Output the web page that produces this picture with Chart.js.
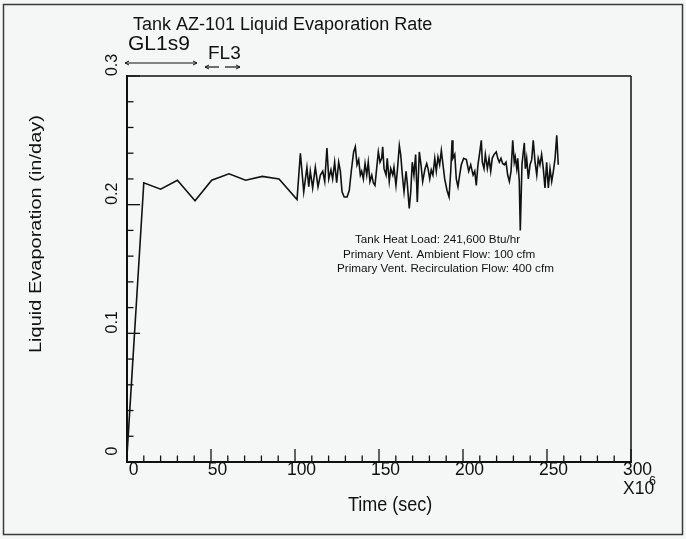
<!DOCTYPE html>
<html>
<head>
<meta charset="utf-8">
<title>Tank AZ-101 Liquid Evaporation Rate</title>
<script src="https://cdn.jsdelivr.net/npm/chart.js@4.4.1/dist/chart.umd.min.js"></script>
<style>
  html, body { margin: 0; padding: 0; background: #f5f7f6; }
  canvas { display: block; }
</style>
</head>
<body>
<canvas id="evapChart" width="686" height="539"></canvas>
<script>
// time axis is in units of 1e6 sec (the "X10^6" note at the axis end)
const timeE6 = [
  0, 10, 20, 30, 40.5, 50.4, 60.7, 70.6, 80.5, 90.5, 101.2,
  103.2, 105.2, 107.1, 108.2, 109.1, 110.5, 112.1, 113.7, 115.1, 116.5,
  117.7, 119.0, 120.1, 121.4, 122.4, 123.6, 124.8, 126.0, 127.0, 128.0,
  129.3, 131.0, 132.3, 133.5, 134.9, 135.9, 136.9, 137.9, 138.9,
  139.7, 140.7, 141.7, 142.7, 143.6, 144.6, 145.7, 146.6, 147.6, 148.6,
  149.6, 150.6, 151.6, 152.2, 153.0, 154.2, 154.9, 156.1, 157.0, 158.2,
  158.9, 160.1, 160.9, 162.1, 162.9, 164.1, 164.9, 166.1, 166.8, 168.0,
  168.9, 169.8, 170.8, 171.8, 172.8, 174.0, 175.0, 176.0, 177.4, 178.4,
  179.2, 180.2, 181.1, 182.1, 183.2, 184.1, 185.1, 186.1, 187.1, 188.1,
  189.1, 190.5, 191.7, 192.7, 193.5, 194.0, 195.1, 196.0, 197.0, 198.0,
  199.0, 200.4, 202.0, 203.4, 204.6, 206.0, 207.0, 207.9, 208.9, 209.9,
  210.9, 211.5, 212.5, 213.3, 214.5, 215.5, 216.5, 217.4, 218.5, 219.8,
  220.7, 221.6, 222.6, 223.6, 224.6, 225.6, 226.6, 227.6, 228.6, 229.6,
  230.5, 231.1, 232.0, 232.6, 233.5, 234.1, 235.1, 235.9, 236.5, 237.1,
  237.9, 238.9, 239.9, 240.9, 241.8, 242.9, 243.9, 244.8, 245.8, 246.8,
  247.8, 248.8, 249.8, 250.8, 251.8, 252.8, 253.8, 254.8, 255.8, 256.7
];
const evapRate = [
  0.005, 0.217, 0.212, 0.219, 0.203, 0.219, 0.224, 0.219, 0.222, 0.220, 0.204,
  0.240, 0.210, 0.229, 0.214, 0.226, 0.213, 0.229, 0.214, 0.223, 0.226,
  0.218, 0.244, 0.220, 0.227, 0.220, 0.233, 0.217, 0.233, 0.226, 0.210,
  0.206, 0.206, 0.211, 0.226, 0.241, 0.245, 0.231, 0.235, 0.223,
  0.226, 0.220, 0.232, 0.223, 0.233, 0.218, 0.223, 0.217, 0.215, 0.228,
  0.241, 0.233, 0.236, 0.245, 0.228, 0.223, 0.236, 0.218, 0.228, 0.223,
  0.229, 0.215, 0.226, 0.246, 0.239, 0.220, 0.210, 0.226, 0.217, 0.197,
  0.210, 0.233, 0.223, 0.239, 0.202, 0.241, 0.231, 0.218, 0.228, 0.232,
  0.228, 0.220, 0.227, 0.223, 0.236, 0.226, 0.237, 0.231, 0.242, 0.231,
  0.220, 0.211, 0.206, 0.226, 0.250, 0.236, 0.239, 0.220, 0.214, 0.223,
  0.231, 0.236, 0.235, 0.226, 0.231, 0.223, 0.226, 0.215, 0.231, 0.240,
  0.250, 0.233, 0.228, 0.239, 0.228, 0.236, 0.226, 0.236, 0.239, 0.241,
  0.236, 0.233, 0.236, 0.232, 0.231, 0.233, 0.223, 0.218, 0.226, 0.250,
  0.233, 0.237, 0.228, 0.236, 0.218, 0.180, 0.231, 0.241, 0.248, 0.228,
  0.236, 0.220, 0.231, 0.235, 0.250, 0.233, 0.223, 0.236, 0.231, 0.239,
  0.228, 0.213, 0.233, 0.213, 0.228, 0.218, 0.226, 0.236, 0.254, 0.231
];

const xTickLabels = ['0', '50', '100', '150', '200', '250', '300'];
const yTickLabels = ['0', '0.1', '0.2', '0.3'];

const chartTitle = 'Tank AZ-101 Liquid Evaporation Rate';
const xTitle = 'Time (sec)';
const yTitle = 'Liquid Evaporation (in/day)';
const phaseLabels = ['GL1s9', 'FL3'];
const noteLines = [
  'Tank Heat Load: 241,600 Btu/hr',
  'Primary Vent. Ambient Flow: 100 cfm',
  'Primary Vent. Recirculation Flow: 400 cfm'
];

const FONT = '"Liberation Sans", Arial, Helvetica, sans-serif';
const INK = '#111';

/**
 * Draw a text, optionally rotated / stretched like the scanned original
 */
function drawText(ctx, s, x, y, size, opts = {}) {
  ctx.save();
  ctx.translate(x, y);
  if (opts.rot) ctx.rotate(opts.rot);
  ctx.scale(opts.sx || 1, opts.sy || 1);
  ctx.font = size + 'px ' + FONT;
  ctx.fillStyle = INK;
  ctx.textAlign = opts.align || 'left';
  ctx.textBaseline = 'alphabetic';
  ctx.fillText(s, 0, 0);
  ctx.restore();
}

function line(ctx, x1, y1, x2, y2, w) {
  ctx.beginPath();
  ctx.lineWidth = w;
  ctx.moveTo(x1, y1);
  ctx.lineTo(x2, y2);
  ctx.stroke();
}

function arrow(ctx, x1, x2, y, headLeft, headRight) {
  line(ctx, x1, y, x2, y, 1.2);
  if (headLeft) {
    line(ctx, x1, y, x1 + 4, y - 2, 1);
    line(ctx, x1, y, x1 + 4, y + 2, 1);
  }
  if (headRight) {
    line(ctx, x2, y, x2 - 4, y - 2, 1);
    line(ctx, x2, y, x2 - 4, y + 2, 1);
  }
}

const paperPlugin = {
  id: 'paper',
  beforeDraw(chart) {
    const ctx = chart.ctx;
    ctx.save();
    ctx.fillStyle = '#f5f7f6';
    ctx.fillRect(0, 0, chart.width, chart.height);
    ctx.restore();
  },
  afterDraw(chart) {
    const { ctx, chartArea: a, scales: { x, y } } = chart;
    ctx.save();

    // outer page frame
    ctx.strokeStyle = '#3a3a3a';
    ctx.lineWidth = 1.5;
    ctx.strokeRect(3.5, 4.5, 679, 530);
    ctx.strokeStyle = INK;

    // top and right sides of the plot box
    line(ctx, a.left, a.top, a.right, a.top, 1.5);
    line(ctx, a.right, a.top, a.right, a.bottom, 1.5);

    // inward ticks: major every 50 / 0.1, minor every 10 / 0.02
    for (let i = 0; i <= 30; i++) {
      const px = x.getPixelForValue(i * 10);
      const len = i % 5 === 0 ? 13 : 6.5;
      line(ctx, px, a.bottom, px, a.bottom - len, 1.3);
    }
    for (let i = 0; i <= 15; i++) {
      const py = y.getPixelForValue(i * 0.02);
      const len = i % 5 === 0 ? 13 : 6.5;
      line(ctx, a.left, py, a.left + len, py, 1.3);
    }

    // titles
    drawText(ctx, chartTitle, 133, 29.5, 18);
    drawText(ctx, xTitle, 348, 510.5, 18, { sy: 1.12 });
    drawText(ctx, yTitle, 41, 353, 20, { rot: -Math.PI / 2, sy: 0.8 });
    drawText(ctx, 'X10', 623, 494, 17.5);
    drawText(ctx, '6', 649, 485, 12.5);

    // run phase labels with their arrows
    drawText(ctx, phaseLabels[0], 128, 50, 21);
    drawText(ctx, phaseLabels[1], 208, 59, 19);
    arrow(ctx, 125, 197, 63, true, true);
    arrow(ctx, 205, 219, 67, true, false);
    arrow(ctx, 225, 240, 67, false, true);

    // conditions note
    drawText(ctx, noteLines[0], 355, 243, 11.7);
    drawText(ctx, noteLines[1], 343, 257.5, 11.7);
    drawText(ctx, noteLines[2], 337, 272, 11.7);

    ctx.restore();
  }
};

Chart.defaults.font.family = FONT;
Chart.defaults.color = INK;

new Chart(document.getElementById('evapChart'), {
  type: 'line',
  data: {
    datasets: [{
      data: timeE6.map((t, i) => ({ x: t, y: evapRate[i] })),
      borderColor: INK,
      borderWidth: 1.6,
      pointRadius: 0,
      tension: 0,
      fill: false
    }]
  },
  options: {
    responsive: false,
    devicePixelRatio: 1,
    animation: false,
    layout: { padding: { left: 100, right: 55, top: 76, bottom: 0 } },
    plugins: {
      legend: { display: false },
      title: { display: false },
      tooltip: { enabled: false }
    },
    scales: {
      x: {
        type: 'linear',
        min: 0,
        max: 300,
        afterFit(scale) { scale.height = 77; },
        border: { display: true, color: INK, width: 2 },
        grid: { display: false, drawTicks: false },
        ticks: {
          stepSize: 50,
          autoSkip: false,
          maxRotation: 0,
          padding: -2,
          labelOffset: 6.5,
          color: INK,
          font: { size: 17.5 },
          callback: (v) => xTickLabels[Math.round(v / 50)]
        }
      },
      y: {
        min: 0,
        max: 0.3,
        afterFit(scale) { scale.width = 27; },
        border: { display: true, color: INK, width: 2 },
        grid: { display: false, drawTicks: false },
        ticks: {
          stepSize: 0.1,
          minRotation: 90,
          maxRotation: 90,
          crossAlign: 'center',
          padding: 3.5,
          labelOffset: -11,
          color: INK,
          font: { size: 16 },
          callback: (v) => yTickLabels[Math.round(v * 10)]
        }
      }
    }
  },
  plugins: [paperPlugin]
});
</script>
</body>
</html>
